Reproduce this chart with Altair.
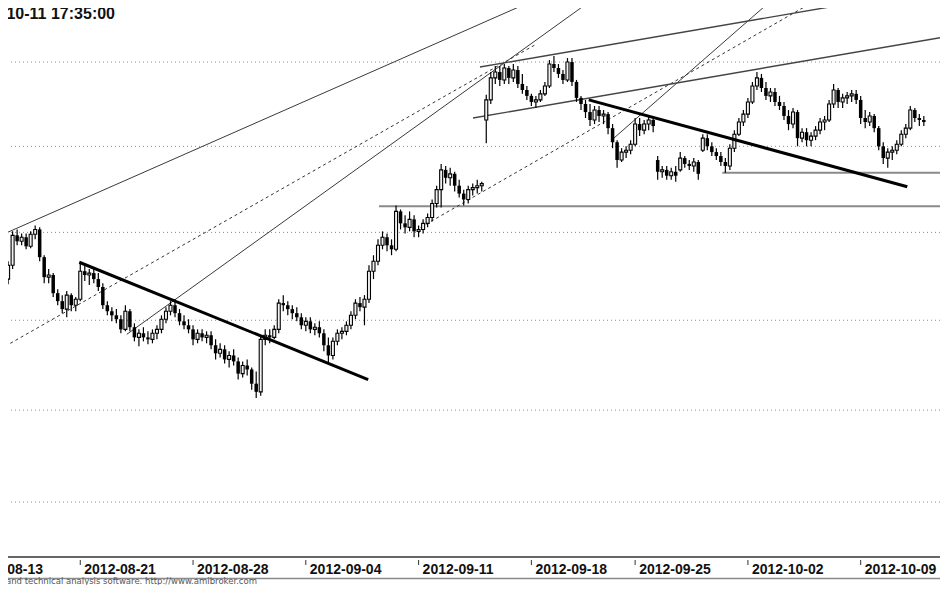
import altair as alt
import pandas as pd

# ---------------- data (hourly-ish bars, WIG20-like index) ----------------
bar_index = list(range(205))

open_ = [
    2317.6, 2323.3, 2331.2, 2348.3, 2344.9, 2347.2, 2342.0, 2348.9, 2351.7, 2335.8,
    2324.4, 2325.6, 2315.3, 2310.8, 2306.3, 2314.2, 2308.5, 2311.9, 2327.8, 2325.6,
    2326.7, 2323.3, 2318.8, 2308.5, 2305.1, 2302.8, 2300.6, 2294.9, 2305.1, 2296.1,
    2290.4, 2292.7, 2290.4, 2289.3, 2292.7, 2294.9, 2300.6, 2305.1, 2308.5, 2304.0,
    2299.4, 2297.2, 2294.9, 2289.3, 2292.7, 2290.4, 2291.6, 2286.0, 2281.5, 2283.7,
    2278.1, 2280.3, 2277.0, 2270.2, 2274.7, 2272.5, 2264.6, 2260.1, 2289.3, 2291.6,
    2290.4, 2294.9, 2309.7, 2308.5, 2306.3, 2304.0, 2301.7, 2297.2, 2299.4, 2294.9,
    2296.1, 2292.7, 2286.0, 2280.3, 2288.2, 2292.7, 2293.8, 2297.2, 2302.8, 2309.7,
    2307.4, 2311.9, 2327.8, 2333.5, 2342.6, 2347.2, 2342.6, 2340.3, 2362.1, 2355.2,
    2352.9, 2357.5, 2350.6, 2351.7, 2355.2, 2358.6, 2366.7, 2374.7, 2386.2, 2381.6,
    2383.9, 2377.0, 2372.4, 2369.0, 2374.7, 2375.9, 2377.0, 2415.5, 2427.4, 2440.5,
    2444.0, 2439.3, 2446.4, 2440.5, 2445.2, 2436.9, 2433.3, 2429.8, 2426.2, 2427.4,
    2431.0, 2435.7, 2448.8, 2446.4, 2442.9, 2439.3, 2450.0, 2438.1, 2428.6, 2425.0,
    2420.2, 2415.5, 2421.4, 2417.9, 2419.0, 2410.7, 2402.4, 2392.0, 2396.6, 2397.7,
    2401.2, 2413.1, 2409.5, 2413.1, 2415.5, 2392.0, 2385.1, 2386.2, 2382.8, 2385.1,
    2386.2, 2393.1, 2389.7, 2388.5, 2390.8, 2397.7, 2404.8, 2400.0, 2396.6, 2394.3,
    2390.8, 2388.5, 2398.9, 2407.1, 2414.3, 2419.0, 2426.2, 2435.7, 2440.5, 2434.5,
    2429.8, 2432.1, 2426.2, 2423.8, 2417.9, 2413.1, 2420.2, 2404.8, 2408.3, 2403.6,
    2406.0, 2409.5, 2414.3, 2415.5, 2425.0, 2433.3, 2426.2, 2428.6, 2429.8, 2431.0,
    2427.4, 2416.7, 2414.3, 2417.9, 2410.7, 2400.0, 2393.1, 2396.6, 2397.7, 2401.2,
    2407.1, 2410.7, 2421.4, 2416.7, 2415.5,
]

high = [
    2327.8, 2333.5, 2350.6, 2351.7, 2349.4, 2349.4, 2350.6, 2354.0, 2352.9, 2336.9,
    2329.0, 2326.7, 2317.6, 2314.2, 2316.5, 2315.3, 2313.1, 2332.9, 2331.2, 2329.0,
    2329.0, 2326.7, 2321.0, 2310.8, 2307.4, 2306.3, 2302.8, 2308.5, 2306.3, 2298.3,
    2294.9, 2296.1, 2293.8, 2294.9, 2297.2, 2302.8, 2307.4, 2310.8, 2311.9, 2306.3,
    2302.8, 2300.6, 2297.2, 2294.9, 2294.9, 2293.8, 2293.8, 2289.3, 2287.1, 2286.0,
    2282.6, 2283.7, 2279.2, 2277.0, 2278.1, 2273.6, 2271.3, 2291.6, 2294.9, 2294.9,
    2297.2, 2311.9, 2314.2, 2310.8, 2308.5, 2307.4, 2304.0, 2301.7, 2301.7, 2298.3,
    2299.4, 2294.9, 2290.4, 2290.4, 2294.9, 2296.1, 2299.4, 2305.1, 2311.9, 2313.1,
    2314.2, 2331.2, 2336.9, 2346.0, 2350.6, 2349.4, 2346.0, 2365.5, 2363.2, 2359.8,
    2362.1, 2359.8, 2354.0, 2357.5, 2360.9, 2369.0, 2377.0, 2389.7, 2388.5, 2387.4,
    2385.1, 2380.5, 2374.7, 2377.0, 2378.2, 2380.5, 2379.3, 2430.4, 2444.0, 2447.6,
    2447.6, 2448.8, 2447.6, 2448.8, 2447.6, 2442.9, 2435.7, 2431.0, 2429.8, 2433.3,
    2438.1, 2451.2, 2453.6, 2448.8, 2445.2, 2452.4, 2452.4, 2439.3, 2429.8, 2427.4,
    2425.0, 2423.8, 2423.8, 2421.4, 2420.2, 2413.1, 2403.6, 2398.9, 2400.0, 2403.6,
    2416.7, 2416.7, 2415.5, 2417.9, 2416.7, 2394.3, 2388.5, 2388.5, 2387.4, 2388.5,
    2396.6, 2394.3, 2392.0, 2393.1, 2392.0, 2407.1, 2407.1, 2402.4, 2398.9, 2396.6,
    2393.1, 2401.2, 2409.5, 2416.7, 2421.4, 2428.6, 2438.1, 2444.0, 2442.9, 2438.1,
    2434.5, 2434.5, 2429.8, 2426.2, 2421.4, 2422.6, 2421.4, 2410.7, 2410.7, 2408.3,
    2411.9, 2416.7, 2417.9, 2427.4, 2436.9, 2434.5, 2431.0, 2432.1, 2433.3, 2433.3,
    2429.8, 2421.4, 2420.2, 2419.0, 2411.9, 2402.4, 2398.9, 2400.0, 2403.6, 2409.5,
    2413.1, 2423.8, 2422.6, 2419.0, 2417.9,
]

low = [
    2315.9, 2320.4, 2329.0, 2342.6, 2342.6, 2340.3, 2340.9, 2346.0, 2333.5, 2321.0,
    2321.0, 2313.1, 2308.5, 2304.0, 2301.7, 2305.1, 2305.1, 2310.8, 2322.2, 2319.9,
    2321.0, 2316.5, 2306.3, 2302.8, 2299.4, 2298.3, 2292.7, 2293.8, 2293.8, 2288.2,
    2285.4, 2288.2, 2286.5, 2287.1, 2289.3, 2292.7, 2298.3, 2302.8, 2301.7, 2297.2,
    2294.9, 2292.7, 2286.0, 2287.1, 2288.2, 2287.1, 2283.7, 2278.1, 2279.2, 2275.8,
    2273.6, 2274.7, 2266.9, 2268.0, 2269.1, 2261.2, 2256.7, 2257.9, 2286.0, 2287.1,
    2289.3, 2292.7, 2305.1, 2302.8, 2300.6, 2299.4, 2294.9, 2293.8, 2292.7, 2291.6,
    2290.4, 2282.6, 2275.8, 2278.1, 2286.0, 2289.3, 2291.6, 2294.9, 2300.6, 2305.1,
    2297.2, 2309.7, 2323.3, 2331.2, 2340.3, 2339.2, 2336.9, 2339.2, 2351.7, 2349.4,
    2350.6, 2347.2, 2347.2, 2349.4, 2352.9, 2356.3, 2364.4, 2364.4, 2378.2, 2377.0,
    2373.6, 2370.1, 2365.5, 2366.7, 2371.3, 2372.4, 2373.6, 2401.8, 2425.0, 2436.9,
    2435.7, 2436.9, 2436.9, 2438.1, 2434.5, 2431.0, 2427.4, 2423.8, 2422.6, 2426.2,
    2429.8, 2434.5, 2444.0, 2440.5, 2436.9, 2438.1, 2435.7, 2426.2, 2421.4, 2416.7,
    2411.9, 2413.1, 2414.3, 2413.1, 2407.1, 2398.9, 2387.4, 2390.8, 2393.1, 2395.4,
    2400.0, 2406.0, 2407.1, 2409.5, 2408.3, 2380.5, 2381.6, 2380.5, 2380.5, 2379.3,
    2385.1, 2387.4, 2386.2, 2385.1, 2380.5, 2396.6, 2397.7, 2394.3, 2392.0, 2388.5,
    2384.5, 2386.2, 2396.6, 2406.0, 2411.9, 2416.7, 2425.0, 2433.3, 2432.1, 2427.4,
    2426.2, 2423.8, 2421.4, 2415.5, 2409.5, 2410.7, 2400.0, 2402.4, 2400.0, 2400.0,
    2403.6, 2407.1, 2409.5, 2414.3, 2422.6, 2422.6, 2422.6, 2425.0, 2426.2, 2425.0,
    2413.1, 2410.7, 2411.9, 2408.3, 2397.7, 2389.7, 2387.4, 2392.0, 2395.4, 2400.0,
    2404.8, 2409.5, 2414.3, 2411.9, 2411.9,
]

close = [
    2323.3, 2331.2, 2348.3, 2344.9, 2347.2, 2342.0, 2348.9, 2351.7, 2335.8, 2324.4,
    2325.6, 2315.3, 2310.8, 2306.3, 2314.2, 2308.5, 2311.9, 2327.8, 2325.6, 2326.7,
    2323.3, 2318.8, 2308.5, 2305.1, 2302.8, 2300.6, 2294.9, 2305.1, 2296.1, 2290.4,
    2292.7, 2290.4, 2289.3, 2292.7, 2294.9, 2300.6, 2305.1, 2308.5, 2304.0, 2299.4,
    2297.2, 2294.9, 2289.3, 2292.7, 2290.4, 2291.6, 2286.0, 2281.5, 2283.7, 2278.1,
    2280.3, 2277.0, 2270.2, 2274.7, 2272.5, 2264.6, 2260.1, 2289.3, 2291.6, 2290.4,
    2294.9, 2309.7, 2308.5, 2306.3, 2304.0, 2301.7, 2297.2, 2299.4, 2294.9, 2296.1,
    2292.7, 2286.0, 2280.3, 2288.2, 2292.7, 2293.8, 2297.2, 2302.8, 2309.7, 2307.4,
    2311.9, 2327.8, 2333.5, 2342.6, 2347.2, 2342.6, 2340.3, 2362.1, 2355.2, 2352.9,
    2357.5, 2350.6, 2351.7, 2355.2, 2358.6, 2366.7, 2374.7, 2386.2, 2381.6, 2383.9,
    2377.0, 2372.4, 2369.0, 2374.7, 2375.9, 2377.0, 2378.2, 2427.4, 2440.5, 2444.0,
    2439.3, 2446.4, 2440.5, 2445.2, 2436.9, 2433.3, 2429.8, 2426.2, 2427.4, 2431.0,
    2435.7, 2448.8, 2446.4, 2442.9, 2439.3, 2450.0, 2438.1, 2428.6, 2425.0, 2420.2,
    2415.5, 2421.4, 2417.9, 2419.0, 2410.7, 2402.4, 2392.0, 2396.6, 2397.7, 2401.2,
    2413.1, 2409.5, 2413.1, 2415.5, 2411.9, 2385.1, 2386.2, 2382.8, 2385.1, 2382.8,
    2393.1, 2389.7, 2388.5, 2390.8, 2383.9, 2404.8, 2400.0, 2396.6, 2394.3, 2390.8,
    2388.5, 2398.9, 2407.1, 2414.3, 2419.0, 2426.2, 2435.7, 2440.5, 2434.5, 2429.8,
    2432.1, 2426.2, 2423.8, 2417.9, 2413.1, 2420.2, 2404.8, 2408.3, 2403.6, 2406.0,
    2409.5, 2414.3, 2415.5, 2425.0, 2433.3, 2426.2, 2428.6, 2429.8, 2431.0, 2427.4,
    2416.7, 2414.3, 2417.9, 2410.7, 2400.0, 2393.1, 2396.6, 2397.7, 2401.2, 2407.1,
    2410.7, 2421.4, 2416.7, 2415.5, 2414.3,
]

grid_levels = [2450, 2400, 2350, 2300, 2250, 2200]

tick_index = [-8, 17, 42, 67, 92, 117, 140, 165, 190]
tick_label = ["2012-08-13", "2012-08-21", "2012-08-28", "2012-09-04", "2012-09-11",
              "2012-09-18", "2012-09-25", "2012-10-02", "2012-10-09"]

# trend lines drawn on the chart: name, start (bar, price), end (bar, price)
line_name = ["L1", "L2", "L3", "L4", "L5", "L7", "L8", "D1", "D2", "H1", "H2"]
line_i0 = [0.33, 0.33, 27.31, 92.44, 134.76, 105.6, 104.06, 16.78, 129.72, 83.23, 159.33]
line_p0 = [2349.4, 2285.4, 2292.1, 2352.9, 2403.6, 2447.0, 2416.7, 2332.9, 2427.4, 2365.0, 2384.5]
line_i1 = [117.66, 117.66, 130.38, 180.15, 170.29, 192.0, 208.22, 80.82, 200.33, 208.22, 208.22]
line_p1 = [2487.4, 2460.1, 2487.4, 2487.4, 2487.4, 2487.4, 2464.9, 2266.9, 2376.4, 2365.0, 2384.5]

title_text = "2012-10-11 17:35:00"
footer_text = "AmiBroker - charting and technical analysis software. http://www.amibroker.com"

# ---------------- chart ----------------
W, H = 932, 549
xs = alt.Scale(domain=[2.0877, 206.474], nice=False, zero=False)
ys = alt.Scale(type="log", domain=[2170.6, 2482.6], nice=False)
X = alt.X("i:Q", scale=xs, axis=None)

bars = pd.DataFrame({"i": bar_index, "o": open_, "h": high, "l": low, "c": close})
bars["top"] = bars[["o", "c"]].max(axis=1)
bars["bot"] = bars[["o", "c"]].min(axis=1)
up = bars[bars["c"] >= bars["o"]]
down = bars[bars["c"] < bars["o"]]

rows = []
for n, a, b, c, d in zip(line_name, line_i0, line_p0, line_i1, line_p1):
    rows.append({"name": n, "i": a, "p": b, "k": 0})
    rows.append({"name": n, "i": c, "p": d, "k": 1})
lines = pd.DataFrame(rows)

kind = {"L1": "thin", "L3": "thin", "L5": "thin", "L2": "dash", "L4": "dash",
        "L7": "mid", "L8": "mid", "D1": "thick", "D2": "thick", "H1": "flat", "H2": "flat"}
lines["kind"] = lines["name"].map(kind)


def line_layer(k, **style):
    return alt.Chart(lines[lines["kind"] == k]).mark_line(clip=True, **style).encode(
        x=X, y=alt.Y("p:Q", scale=ys, axis=None), detail="name:N", order="k:Q")


grid = alt.Chart(pd.DataFrame({"p": grid_levels})).mark_rule(
    color="#8c8c8c", strokeDash=[1, 3], strokeWidth=1).encode(
    y=alt.Y("p:Q", scale=ys, axis=None))

wicks = alt.Chart(bars).mark_rule(color="black", strokeWidth=1.2, clip=True).encode(
    x=X, y=alt.Y("l:Q", scale=ys, axis=None), y2="h:Q")
body_down = alt.Chart(down).mark_bar(size=3.5, color="black", clip=True).encode(
    x=X, y=alt.Y("bot:Q", scale=ys, axis=None), y2="top:Q")
body_up = alt.Chart(up).mark_bar(size=3, fill="#f2f2f2", stroke="black", strokeWidth=1.1, clip=True).encode(
    x=X, y=alt.Y("bot:Q", scale=ys, axis=None), y2="top:Q")

one = pd.DataFrame({"a": [0]})
axis_top = alt.Chart(one).mark_rule(color="#666666", strokeWidth=2).encode(
    x=alt.value(0), x2=alt.value(W), y=alt.value(H))
axis_bottom = alt.Chart(one).mark_rule(color="#8a8a8a", strokeWidth=1.5).encode(
    x=alt.value(0), x2=alt.value(W), y=alt.value(570.5))

ticks = pd.DataFrame({"i": tick_index, "label": tick_label})
tick_marks = alt.Chart(ticks).mark_rule(color="#333333", strokeWidth=1).encode(
    x=X, y=alt.value(552), y2=alt.value(557))
tick_text = alt.Chart(ticks).mark_text(
    align="left", baseline="alphabetic", dx=4, fontSize=14, fontWeight="bold",
    font="Liberation Sans", color="#111111").encode(
    x=X, y=alt.value(566), text="label:N")

title = alt.Chart(pd.DataFrame({"t": [title_text]})).mark_text(
    align="right", baseline="alphabetic", fontSize=16, fontWeight="bold",
    font="Liberation Sans", color="#111111").encode(
    x=alt.value(107), y=alt.value(11), text="t:N")
footer = alt.Chart(pd.DataFrame({"t": [footer_text]})).mark_text(
    align="right", baseline="alphabetic", fontSize=8.5,
    font="DejaVu Sans", color="#555555").encode(
    x=alt.value(249), y=alt.value(576), text="t:N")

chart = alt.layer(
    grid,
    line_layer("flat", color="#8a8a8a", strokeWidth=2),
    line_layer("thin", color="#3a3a3a", strokeWidth=1),
    line_layer("dash", color="#333333", strokeWidth=1, strokeDash=[3, 3]),
    line_layer("mid", color="#444444", strokeWidth=1.4),
    wicks, body_down, body_up,
    line_layer("thick", color="black", strokeWidth=3),
    axis_top, axis_bottom, tick_marks, tick_text, title, footer,
).properties(
    width=W, height=H,
    autosize=alt.AutoSizeParams(type="none"),
    padding={"left": 0, "top": 0, "right": 0, "bottom": 28},
    background="white",
).configure_view(strokeWidth=0)

chart.save("out.html", embed_options={"renderer": "svg", "actions": False})
